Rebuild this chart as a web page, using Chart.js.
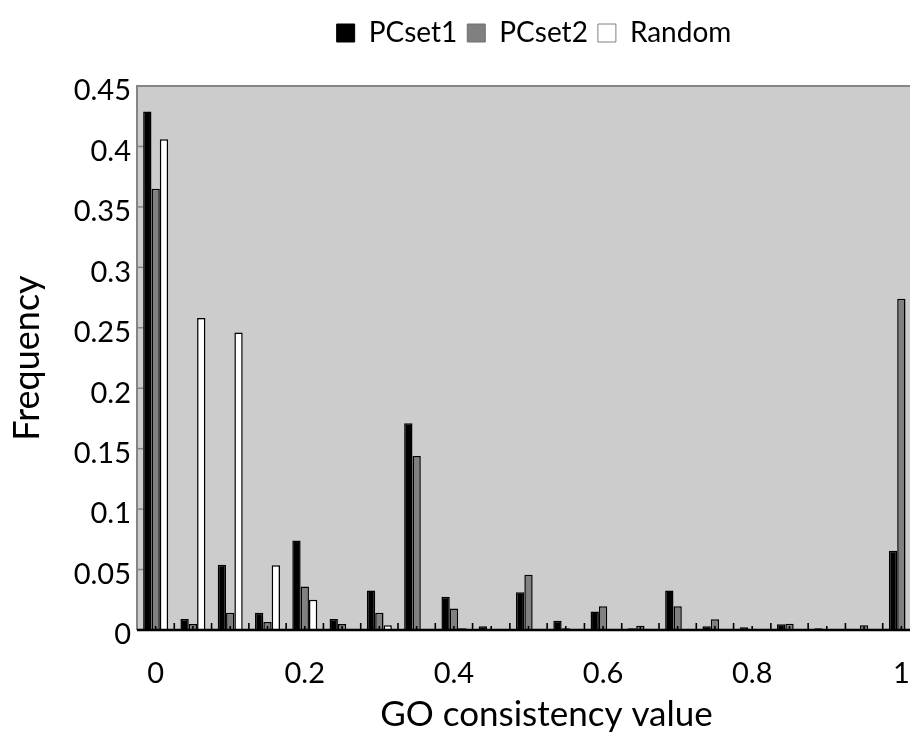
<!DOCTYPE html>
<html><head><meta charset="utf-8">
<script src="https://cdn.jsdelivr.net/npm/chart.js@4.4.0/dist/chart.umd.min.js"></script>
<style>
html,body{margin:0;padding:0;background:#fff;overflow:hidden;width:910px;height:732px}
#wrap{position:absolute;left:0;top:0;width:922px;height:732px}
canvas{display:block}
</style>
</head><body><div id="wrap"><canvas id="c" width="922" height="732" style="width:922px;height:732px"></canvas></div>
<script>
// ---- data ----
const categories = ['0','0.05','0.1','0.15','0.2','0.25','0.3','0.35','0.4','0.45','0.5','0.55','0.6','0.65','0.7','0.75','0.8','0.85','0.9','0.95','1'];
const xTickLabels = ['0','0.2','0.4','0.6','0.8','1'];
const yTickStep = 0.05;
const yMax = 0.45;
const seriesNames = ['PCset1','PCset2','Random'];
const pcset1 = [0.429,0.009,0.054,0.0143,0.074,0.009,0.0326,0.171,0.0276,0.003,0.0312,0.0077,0.0152,0.0015,0.0326,0.003,0.0022,0.0047,0.0014,0.0008,0.0655];
const pcset2 = [0.365,0.005,0.0143,0.0066,0.036,0.005,0.0143,0.144,0.0177,0.0005,0.0458,0.0015,0.0196,0.0035,0.0196,0.0089,0.001,0.0052,0.0003,0.0039,0.274];
const random = [0.406,0.258,0.246,0.0536,0.025,0.0008,0.004,0,0.0015,0,0,0,0,0,0,0,0,0,0,0,0];
const yAxisTitle = 'Frequency';
const xAxisTitle = 'GO consistency value';

const FONT = 'Lato';

const plotFrame = {
  id: 'plotFrame',
  beforeDatasetsDraw(chart) {
    const {ctx, chartArea: a} = chart;
    ctx.save();
    ctx.fillStyle = '#cccccc';
    ctx.fillRect(a.left, a.top, a.right - a.left, a.bottom - a.top);
    ctx.restore();
  },
  afterDatasetsDraw(chart) {
    const {ctx, chartArea: a, scales: {x, y}} = chart;
    ctx.save();
    ctx.strokeStyle = '#858585';
    ctx.lineWidth = 2;
    ctx.beginPath();
    ctx.moveTo(a.left, a.bottom); ctx.lineTo(a.left, a.top); ctx.lineTo(a.right + 5, a.top);
    ctx.stroke();
    ctx.lineWidth = 1.5;
    y.ticks.forEach((t, i) => {
      const py = y.getPixelForTick(i);
      ctx.beginPath(); ctx.moveTo(a.left, py); ctx.lineTo(a.left + 6, py); ctx.stroke();
    });
    ctx.strokeStyle = '#000';
    ctx.lineWidth = 2.5;
    ctx.beginPath(); ctx.moveTo(a.left, a.bottom); ctx.lineTo(a.right, a.bottom); ctx.stroke();
    const half = (x.getPixelForValue(1) - x.getPixelForValue(0)) / 2;
    ctx.lineWidth = 1.6;
    categories.forEach((c, i) => {
      const px = x.getPixelForValue(i);
      ctx.beginPath();
      ctx.moveTo(px + half, a.bottom); ctx.lineTo(px + half, a.bottom - 7);
      ctx.moveTo(px, a.bottom); ctx.lineTo(px, a.bottom - 4);
      ctx.stroke();
    });
    ctx.restore();
  }
};

const legendLayout = {
  id: 'legendLayout',
  beforeInit(chart) {
    const fit = chart.legend.fit;
    chart.legend.fit = function () { fit.call(this); this.height = 77; };
  },
  afterLayout(chart) {
    const l = chart.legend;
    l.left += 74; l.right += 74;
  }
};

const xTitle = {
  id: 'xTitle',
  afterDraw(chart) {
    const {ctx, chartArea: a} = chart;
    ctx.save();
    ctx.font = '35px ' + FONT;
    ctx.fillStyle = '#000';
    ctx.textAlign = 'center';
    ctx.textBaseline = 'alphabetic';
    ctx.fillText(xAxisTitle, (a.left + a.right) / 2 + 18, 726);
    ctx.restore();
  }
};

new Chart(document.getElementById('c'), {
  type: 'bar',
  data: {
    labels: categories,
    datasets: [
      {label: seriesNames[0], data: pcset1, backgroundColor: '#000000', borderColor: '#000000', borderWidth: 1.5},
      {label: seriesNames[1], data: pcset2, backgroundColor: '#808080', borderColor: '#000000', borderWidth: 1.5},
      {label: seriesNames[2], data: random, backgroundColor: '#ffffff', borderColor: '#000000', borderWidth: 1.5}
    ]
  },
  options: {
    responsive: false,
    devicePixelRatio: 1,
    animation: false,
    layout: {padding: {top: 9, right: 2, left: 0, bottom: 0}},
    datasets: {bar: {categoryPercentage: 0.67, barPercentage: 1.0}},
    plugins: {
      tooltip: {enabled: false},
      legend: {
        position: 'top',
        align: 'center',
        labels: {
          font: {family: FONT, size: 28},
          color: '#000',
          boxWidth: 18,
          boxHeight: 18,
          padding: 10,
          generateLabels(chart) {
            const fills = ['#000000', '#808080', '#ffffff'];
            const strokes = ['#000000', '#707070', '#808080'];
            return chart.data.datasets.map((d, i) => ({
              text: d.label, fillStyle: fills[i], strokeStyle: strokes[i], lineWidth: 1,
              hidden: false, datasetIndex: i, fontColor: '#000'
            }));
          }
        }
      }
    },
    scales: {
      x: {
        type: 'category',
        grid: {display: false, drawTicks: false},
        border: {display: false},
        afterFit(s) { s.height = 102; s.paddingRight = 0; s.paddingLeft = 0; },
        ticks: {
          autoSkip: false, maxRotation: 0, minRotation: 0, padding: 26,
          color: '#000', font: {family: FONT, size: 29},
          callback(v, i) { const l = categories[i]; return xTickLabels.includes(l) ? l : ''; }
        }
      },
      y: {
        min: 0, max: yMax,
        grid: {display: false, drawTicks: false},
        border: {display: false},
        afterFit(s) { s.width = 137; },
        ticks: {
          stepSize: yTickStep, padding: 6, labelOffset: 5,
          color: '#000', font: {family: FONT, size: 29},
          callback(v) { return String(+v.toFixed(2)); }
        },
        title: {display: true, text: yAxisTitle, color: '#000', font: {family: FONT, size: 36, lineHeight: 1.2}, padding: {top: 6, bottom: 0}}
      }
    }
  },
  plugins: [plotFrame, legendLayout, xTitle]
});
</script>
</body></html>
